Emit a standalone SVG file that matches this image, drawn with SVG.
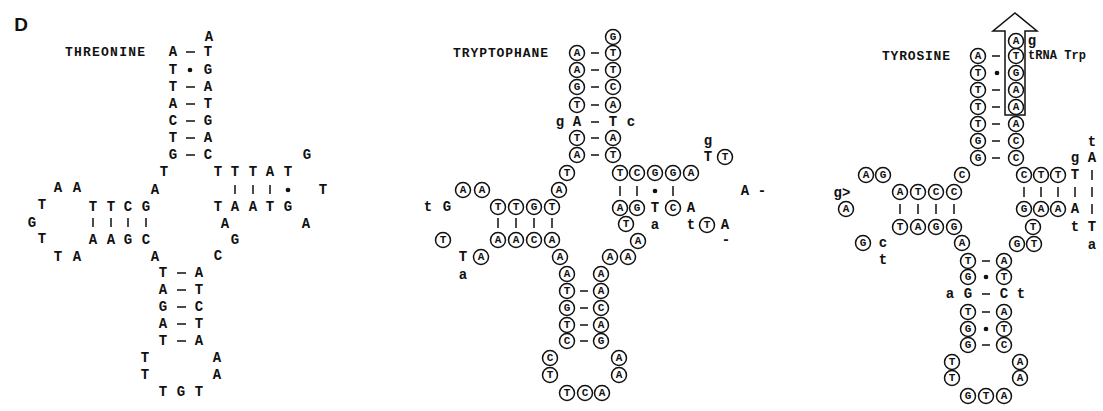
<svg xmlns="http://www.w3.org/2000/svg" width="1103" height="411" viewBox="0 0 1103 411">
<style>
text{font-family:"Liberation Mono","DejaVu Sans Mono",monospace;font-weight:bold;fill:#111;text-anchor:middle;dominant-baseline:central}
.p{font-size:14px}
.c{font-size:11px}
.l{font-size:13px;text-anchor:start}
.ci{fill:#fff;stroke:#111;stroke-width:1.5}
.b{stroke:#111;stroke-width:1.5;fill:none}
.d{fill:#111}
</style>
<rect width="1103" height="411" fill="#fff"/>
<text x="21" y="24" style="font-family:'Liberation Sans',Arial,sans-serif;font-size:19px">D</text>

<g id="threonine">
<text class="l" x="65" y="52" textLength="80">THREONINE</text>
<g id="thr-acceptor">
<text class="p" x="209" y="37">A</text>
<text class="p" x="173" y="52">A</text><text class="p" x="208" y="52">T</text>
<text class="p" x="173" y="70">T</text><text class="p" x="208" y="70">G</text>
<text class="p" x="173" y="87">T</text><text class="p" x="208" y="87">A</text>
<text class="p" x="173" y="104">A</text><text class="p" x="208" y="104">T</text>
<text class="p" x="173" y="121">C</text><text class="p" x="208" y="121">G</text>
<text class="p" x="173" y="138">T</text><text class="p" x="208" y="138">A</text>
<text class="p" x="173" y="155">G</text><text class="p" x="208" y="155">C</text>
<text class="p" x="164" y="172">T</text>
</g>
<g id="thr-tarm">
<text class="p" x="218" y="172">T</text><text class="p" x="235" y="172">T</text><text class="p" x="253" y="172">T</text><text class="p" x="270" y="172">A</text><text class="p" x="288" y="172">T</text>
<text class="p" x="307" y="155">G</text><text class="p" x="323" y="190">T</text><text class="p" x="306" y="224">A</text>
<text class="p" x="218" y="207">T</text><text class="p" x="235" y="207">A</text><text class="p" x="253" y="207">A</text><text class="p" x="270" y="207">T</text><text class="p" x="288" y="207">G</text>
<text class="p" x="225" y="224">A</text><text class="p" x="235" y="240">G</text><text class="p" x="218" y="256">C</text>
</g>
<g id="thr-darm">
<text class="p" x="155" y="190">A</text>
<text class="p" x="93" y="207">T</text><text class="p" x="111" y="207">T</text><text class="p" x="128" y="207">C</text><text class="p" x="146" y="207">G</text>
<text class="p" x="93" y="240">A</text><text class="p" x="111" y="240">A</text><text class="p" x="128" y="240">G</text><text class="p" x="146" y="240">C</text>
<text class="p" x="155" y="257">A</text>
<text class="p" x="58" y="188">A</text><text class="p" x="77" y="188">A</text><text class="p" x="42" y="205">T</text><text class="p" x="32" y="223">G</text><text class="p" x="42" y="239">T</text><text class="p" x="58" y="257">T</text><text class="p" x="77" y="257">A</text>
</g>
<g id="thr-anticodon">
<text class="p" x="163" y="273">T</text><text class="p" x="199" y="273">A</text>
<text class="p" x="163" y="290">A</text><text class="p" x="199" y="290">T</text>
<text class="p" x="163" y="307">G</text><text class="p" x="199" y="307">C</text>
<text class="p" x="163" y="324">A</text><text class="p" x="199" y="324">T</text>
<text class="p" x="163" y="341">T</text><text class="p" x="199" y="341">A</text>
<text class="p" x="145" y="358">T</text><text class="p" x="217" y="358">A</text>
<text class="p" x="145" y="375">T</text><text class="p" x="217" y="375">A</text>
<text class="p" x="163" y="392">T</text><text class="p" x="181" y="392">G</text><text class="p" x="199" y="392">T</text>
</g>
</g>

<g id="tryptophane">
<text class="l" x="453" y="53" textLength="95">TRYPTOPHANE</text>
<g id="trp-acceptor">
<circle class="ci" cx="613" cy="37" r="7.5"/><text class="c" x="613" y="37">G</text>
<circle class="ci" cx="577" cy="53" r="7.5"/><text class="c" x="577" y="53">A</text><circle class="ci" cx="613" cy="53" r="7.5"/><text class="c" x="613" y="53">T</text>
<circle class="ci" cx="577" cy="70" r="7.5"/><text class="c" x="577" y="70">A</text><circle class="ci" cx="613" cy="70" r="7.5"/><text class="c" x="613" y="70">T</text>
<circle class="ci" cx="577" cy="87" r="7.5"/><text class="c" x="577" y="87">G</text><circle class="ci" cx="613" cy="87" r="7.5"/><text class="c" x="613" y="87">C</text>
<circle class="ci" cx="577" cy="105" r="7.5"/><text class="c" x="577" y="105">T</text><circle class="ci" cx="613" cy="105" r="7.5"/><text class="c" x="613" y="105">A</text>
<text class="p" x="560" y="122">g</text><text class="p" x="577" y="122">A</text><text class="p" x="613" y="122">T</text><text class="p" x="631" y="122">c</text>
<circle class="ci" cx="577" cy="138" r="7.5"/><text class="c" x="577" y="138">T</text><circle class="ci" cx="613" cy="138" r="7.5"/><text class="c" x="613" y="138">A</text>
<circle class="ci" cx="577" cy="155" r="7.5"/><text class="c" x="577" y="155">A</text><circle class="ci" cx="613" cy="155" r="7.5"/><text class="c" x="613" y="155">T</text>
<circle class="ci" cx="567" cy="173" r="7.5"/><text class="c" x="567" y="173">T</text>
</g>
<g id="trp-darm">
<circle class="ci" cx="559" cy="190" r="7.5"/><text class="c" x="559" y="190">A</text>
<circle class="ci" cx="463" cy="190" r="7.5"/><text class="c" x="463" y="190">A</text><circle class="ci" cx="482" cy="190" r="7.5"/><text class="c" x="482" y="190">A</text>
<text class="p" x="428" y="207">t</text><text class="p" x="447" y="207">G</text>
<circle class="ci" cx="498" cy="207" r="7.5"/><text class="c" x="498" y="207">T</text><circle class="ci" cx="516" cy="207" r="7.5"/><text class="c" x="516" y="207">T</text><circle class="ci" cx="534" cy="207" r="7.5"/><text class="c" x="534" y="207">G</text><circle class="ci" cx="552" cy="207" r="7.5"/><text class="c" x="552" y="207">T</text>
<circle class="ci" cx="498" cy="240" r="7.5"/><text class="c" x="498" y="240">A</text><circle class="ci" cx="516" cy="240" r="7.5"/><text class="c" x="516" y="240">A</text><circle class="ci" cx="534" cy="240" r="7.5"/><text class="c" x="534" y="240">C</text><circle class="ci" cx="552" cy="240" r="7.5"/><text class="c" x="552" y="240">A</text>
<circle class="ci" cx="443" cy="240" r="7.5"/><text class="c" x="443" y="240">T</text>
<text class="p" x="463" y="257">T</text><circle class="ci" cx="481" cy="257" r="7.5"/><text class="c" x="481" y="257">A</text>
<text class="p" x="463" y="275">a</text>
<circle class="ci" cx="560" cy="257" r="7.5"/><text class="c" x="560" y="257">A</text>
</g>
<g id="trp-anticodon">
<circle class="ci" cx="567" cy="274" r="7.5"/><text class="c" x="567" y="274">A</text><circle class="ci" cx="601" cy="274" r="7.5"/><text class="c" x="601" y="274">A</text>
<circle class="ci" cx="567" cy="291" r="7.5"/><text class="c" x="567" y="291">T</text><circle class="ci" cx="601" cy="291" r="7.5"/><text class="c" x="601" y="291">A</text>
<circle class="ci" cx="567" cy="308" r="7.5"/><text class="c" x="567" y="308">G</text><circle class="ci" cx="601" cy="308" r="7.5"/><text class="c" x="601" y="308">C</text>
<circle class="ci" cx="567" cy="325" r="7.5"/><text class="c" x="567" y="325">T</text><circle class="ci" cx="601" cy="325" r="7.5"/><text class="c" x="601" y="325">A</text>
<circle class="ci" cx="567" cy="341" r="7.5"/><text class="c" x="567" y="341">C</text><circle class="ci" cx="601" cy="341" r="7.5"/><text class="c" x="601" y="341">G</text>
<circle class="ci" cx="550" cy="358" r="7.5"/><text class="c" x="550" y="358">C</text><circle class="ci" cx="619" cy="358" r="7.5"/><text class="c" x="619" y="358">A</text>
<circle class="ci" cx="550" cy="375" r="7.5"/><text class="c" x="550" y="375">T</text><circle class="ci" cx="619" cy="375" r="7.5"/><text class="c" x="619" y="375">A</text>
<circle class="ci" cx="567" cy="393" r="7.5"/><text class="c" x="567" y="393">T</text><circle class="ci" cx="585" cy="393" r="7.5"/><text class="c" x="585" y="393">C</text><circle class="ci" cx="602" cy="393" r="7.5"/><text class="c" x="602" y="393">A</text>
</g>
<g id="trp-tarm">
<circle class="ci" cx="620" cy="173" r="7.5"/><text class="c" x="620" y="173">T</text><circle class="ci" cx="637" cy="173" r="7.5"/><text class="c" x="637" y="173">C</text><circle class="ci" cx="655" cy="173" r="7.5"/><text class="c" x="655" y="173">G</text><circle class="ci" cx="673" cy="173" r="7.5"/><text class="c" x="673" y="173">G</text><circle class="ci" cx="691" cy="173" r="7.5"/><text class="c" x="691" y="173">A</text>
<circle class="ci" cx="620" cy="208" r="7.5"/><text class="c" x="620" y="208">A</text><circle class="ci" cx="637" cy="208" r="7.5"/><text class="c" x="637" y="208">G</text><text class="p" x="655" y="208">T</text><circle class="ci" cx="673" cy="208" r="7.5"/><text class="c" x="673" y="208">C</text><text class="p" x="691" y="208">A</text>
<circle class="ci" cx="626" cy="224" r="7.5"/><text class="c" x="626" y="224">T</text>
<text class="p" x="655" y="225">a</text><text class="p" x="691" y="225">t</text>
<circle class="ci" cx="707" cy="225" r="7.5"/><text class="c" x="707" y="225">T</text><text class="p" x="725" y="225">A</text>
<text class="p" x="726" y="240">-</text>
<circle class="ci" cx="638" cy="241" r="7.5"/><text class="c" x="638" y="241">A</text>
<circle class="ci" cx="610" cy="257" r="7.5"/><text class="c" x="610" y="257">A</text><circle class="ci" cx="628" cy="257" r="7.5"/><text class="c" x="628" y="257">A</text>
<text class="p" x="708" y="141">g</text><text class="p" x="708" y="157">T</text><circle class="ci" cx="725" cy="157" r="7.5"/><text class="c" x="725" y="157">T</text>
<text class="p" x="745" y="191">A</text><text class="p" x="762" y="191">-</text>
</g>
</g>

<g id="tyrosine">
<text class="l" x="882" y="56" textLength="68">TYROSINE</text>
<polygon class="b" points="1015,13 1037,31 1025,31 1025,115 1005,115 1005,31 993,31"/>
<g id="tyr-acceptor">
<circle class="ci" cx="1016" cy="41" r="7.5"/><text class="c" x="1016" y="41">A</text><text class="p" x="1032" y="41">g</text>
<text class="l" x="1028" y="56" style="font-size:12px" textLength="58">tRNA Trp</text>
<circle class="ci" cx="978" cy="56" r="7.5"/><text class="c" x="978" y="56">A</text><circle class="ci" cx="1016" cy="56" r="7.5"/><text class="c" x="1016" y="56">T</text>
<circle class="ci" cx="978" cy="73" r="7.5"/><text class="c" x="978" y="73">T</text><circle class="ci" cx="1016" cy="73" r="7.5"/><text class="c" x="1016" y="73">G</text>
<circle class="ci" cx="978" cy="90" r="7.5"/><text class="c" x="978" y="90">T</text><circle class="ci" cx="1016" cy="90" r="7.5"/><text class="c" x="1016" y="90">A</text>
<circle class="ci" cx="978" cy="107" r="7.5"/><text class="c" x="978" y="107">T</text><circle class="ci" cx="1016" cy="107" r="7.5"/><text class="c" x="1016" y="107">A</text>
<circle class="ci" cx="978" cy="124" r="7.5"/><text class="c" x="978" y="124">T</text><circle class="ci" cx="1016" cy="124" r="7.5"/><text class="c" x="1016" y="124">A</text>
<circle class="ci" cx="978" cy="141" r="7.5"/><text class="c" x="978" y="141">G</text><circle class="ci" cx="1016" cy="141" r="7.5"/><text class="c" x="1016" y="141">C</text>
<circle class="ci" cx="978" cy="158" r="7.5"/><text class="c" x="978" y="158">G</text><circle class="ci" cx="1016" cy="158" r="7.5"/><text class="c" x="1016" y="158">C</text>
<circle class="ci" cx="962" cy="175" r="7.5"/><text class="c" x="962" y="175">C</text>
</g>
<g id="tyr-darm">
<circle class="ci" cx="866" cy="175" r="7.5"/><text class="c" x="866" y="175">A</text><circle class="ci" cx="883" cy="175" r="7.5"/><text class="c" x="883" y="175">G</text>
<text class="p" x="842" y="193">g&gt;</text>
<circle class="ci" cx="900" cy="192" r="7.5"/><text class="c" x="900" y="192">A</text><circle class="ci" cx="918" cy="192" r="7.5"/><text class="c" x="918" y="192">T</text><circle class="ci" cx="936" cy="192" r="7.5"/><text class="c" x="936" y="192">C</text><circle class="ci" cx="954" cy="192" r="7.5"/><text class="c" x="954" y="192">C</text>
<circle class="ci" cx="846" cy="209" r="7.5"/><text class="c" x="846" y="209">A</text>
<circle class="ci" cx="900" cy="227" r="7.5"/><text class="c" x="900" y="227">T</text><circle class="ci" cx="918" cy="227" r="7.5"/><text class="c" x="918" y="227">A</text><circle class="ci" cx="936" cy="227" r="7.5"/><text class="c" x="936" y="227">G</text><circle class="ci" cx="954" cy="227" r="7.5"/><text class="c" x="954" y="227">G</text>
<circle class="ci" cx="863" cy="243" r="7.5"/><text class="c" x="863" y="243">G</text><text class="p" x="883" y="243">c</text><text class="p" x="883" y="260">t</text>
<circle class="ci" cx="962" cy="243" r="7.5"/><text class="c" x="962" y="243">A</text>
</g>
<g id="tyr-anticodon">
<circle class="ci" cx="968" cy="261" r="7.5"/><text class="c" x="968" y="261">T</text><circle class="ci" cx="1004" cy="261" r="7.5"/><text class="c" x="1004" y="261">A</text>
<circle class="ci" cx="968" cy="277" r="7.5"/><text class="c" x="968" y="277">G</text><circle class="ci" cx="1004" cy="277" r="7.5"/><text class="c" x="1004" y="277">T</text>
<text class="p" x="950" y="294">a</text><text class="p" x="968" y="294">G</text><text class="p" x="1004" y="294">C</text><text class="p" x="1021" y="294">t</text>
<circle class="ci" cx="968" cy="312" r="7.5"/><text class="c" x="968" y="312">T</text><circle class="ci" cx="1004" cy="312" r="7.5"/><text class="c" x="1004" y="312">A</text>
<circle class="ci" cx="968" cy="329" r="7.5"/><text class="c" x="968" y="329">G</text><circle class="ci" cx="1004" cy="329" r="7.5"/><text class="c" x="1004" y="329">T</text>
<circle class="ci" cx="968" cy="345" r="7.5"/><text class="c" x="968" y="345">G</text><circle class="ci" cx="1004" cy="345" r="7.5"/><text class="c" x="1004" y="345">C</text>
<circle class="ci" cx="952" cy="362" r="7.5"/><text class="c" x="952" y="362">T</text><circle class="ci" cx="1020" cy="362" r="7.5"/><text class="c" x="1020" y="362">A</text>
<circle class="ci" cx="952" cy="378" r="7.5"/><text class="c" x="952" y="378">T</text><circle class="ci" cx="1020" cy="378" r="7.5"/><text class="c" x="1020" y="378">A</text>
<circle class="ci" cx="968" cy="396" r="7.5"/><text class="c" x="968" y="396">G</text><circle class="ci" cx="986" cy="396" r="7.5"/><text class="c" x="986" y="396">T</text><circle class="ci" cx="1004" cy="396" r="7.5"/><text class="c" x="1004" y="396">A</text>
</g>
<g id="tyr-tarm">
<circle class="ci" cx="1024" cy="175" r="7.5"/><text class="c" x="1024" y="175">C</text><circle class="ci" cx="1041" cy="175" r="7.5"/><text class="c" x="1041" y="175">T</text><circle class="ci" cx="1058" cy="175" r="7.5"/><text class="c" x="1058" y="175">T</text>
<circle class="ci" cx="1024" cy="209" r="7.5"/><text class="c" x="1024" y="209">G</text><circle class="ci" cx="1041" cy="209" r="7.5"/><text class="c" x="1041" y="209">A</text><circle class="ci" cx="1058" cy="209" r="7.5"/><text class="c" x="1058" y="209">A</text>
<circle class="ci" cx="1033" cy="227" r="7.5"/><text class="c" x="1033" y="227">T</text>
<circle class="ci" cx="1017" cy="244" r="7.5"/><text class="c" x="1017" y="244">G</text><circle class="ci" cx="1034" cy="244" r="7.5"/><text class="c" x="1034" y="244">T</text>
<text class="p" x="1075" y="158">g</text><text class="p" x="1075" y="175">T</text><text class="p" x="1075" y="209">A</text><text class="p" x="1075" y="227">t</text>
<text class="p" x="1092" y="142">t</text><text class="p" x="1092" y="158">A</text><text class="p" x="1092" y="227">T</text><text class="p" x="1092" y="245">a</text>
</g>
</g>

<g id="connectors" class="b">
<path d="M186 52h9M186 87h9M186 104h9M186 121h9M186 138h9M186 155h9"/>
<path d="M235 185v9M253 185v9M270 185v9M93 218v9M111 218v9M128 218v9M146 218v9"/>
<path d="M177 273h9M177 290h9M177 307h9M177 324h9M177 341h9"/>
<path d="M591 53h8M591 70h8M591 87h8M591 105h8M591 122h8M591 138h8M591 155h8"/>
<path d="M498 218v10M516 218v10M534 218v10M552 218v10M620 186v10M637 186v10M673 186v10"/>
<path d="M580 291h8M580 308h8M580 325h8M580 341h8"/>
<path d="M992 56h8M992 90h8M992 107h8M992 124h8M992 141h8M992 158h8"/>
<path d="M900 204v10M918 204v10M936 204v10M954 204v10M1024 187v10M1041 187v10M1058 187v10M1075 187v10M1092 170v10M1092 187v10M1092 204v10"/>
<path d="M982 261h8M982 294h8M982 312h8M982 345h8"/>
<circle class="d" cx="190" cy="70" r="1.6"/><circle class="d" cx="288" cy="190" r="1.6"/>
<circle class="d" cx="655" cy="191" r="1.6"/><circle class="d" cx="997" cy="73" r="1.6"/>
<circle class="d" cx="986" cy="277" r="1.6"/><circle class="d" cx="986" cy="329" r="1.6"/>
</g>
</svg>
